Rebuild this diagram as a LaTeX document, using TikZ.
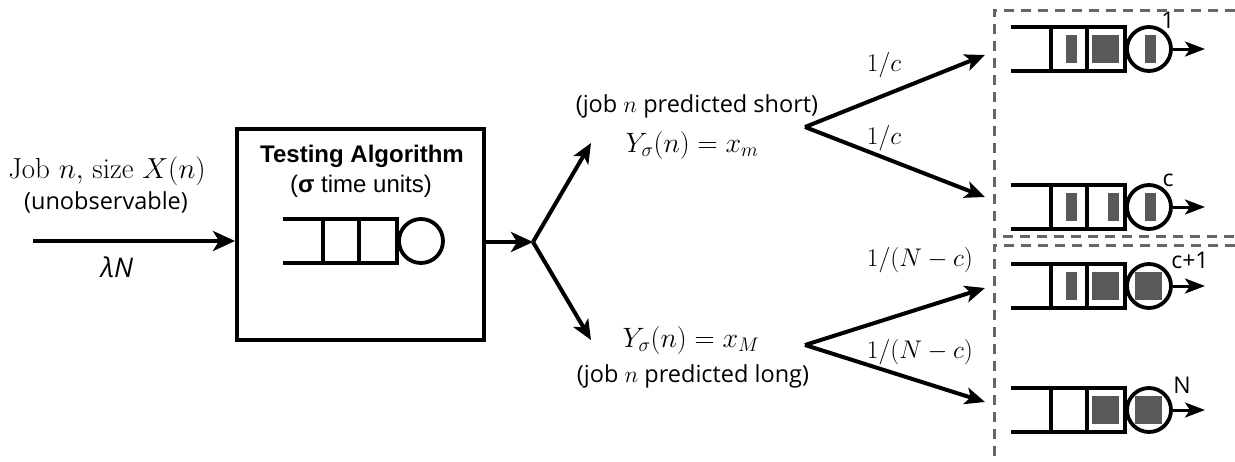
\RequirePackage{fix-cm}
\documentclass[tikz,border=0pt]{standalone}
\usepackage{fontspec}
\usetikzlibrary{arrows.meta,calc}
\newfontfamily\ubu{Open Sans}
\newfontfamily\arialf{Liberation Sans}
\definecolor{qgray}{HTML}{595959}
\definecolor{dgray}{HTML}{666666}
\tikzset{
  qline/.style={line width=4pt,line cap=rect},
  srv/.style={draw,circle,line width=3.8pt,minimum size=44pt,inner sep=0pt},
  qfill/.style={fill=qgray},
  bigarrow/.style={line width=4.5pt,-{Stealth[length=22pt,width=20pt,inset=6pt]}},
  brarrow/.style={line width=4pt,-{Stealth[length=20pt,width=17pt,inset=5pt]}},
  qarrow/.style={line width=3pt,-{Stealth[length=20pt,width=15pt,inset=5pt]}},
  dbox/.style={dgray,line width=3pt,dash pattern=on 10pt off 7pt},
  mathlbl/.style={inner sep=0pt},
  sanslbl/.style={inner sep=0pt,font=\ubu\fontsize{23.5}{28}\selectfont},
  qlbl/.style={inner sep=0pt,font=\ubu\fontsize{23}{27}\selectfont},
}
\newcommand\qbar[1]{\fill[qfill] (#1-5.5,-14) rectangle (#1+5.5,14);}
\newcommand\qsq[1]{\fill[qfill] (#1-13.5,-14) rectangle (#1+13.5,14);}
% #1 name, #2 position, #3 contents
\newcommand\myqueue[3]{%
  \begin{scope}[shift={#2}]
    \draw[qline] (112,-22) -- (0,-22) (0,22) -- (112,22)
      (38,-22) -- (38,22) (74,-22) -- (74,22) (112,-22) -- (112,22);
    \node[srv] (#1) at (136,0) {};
    #3
  \end{scope}}
\begin{document}
\begin{tikzpicture}[x=1pt,y=-1pt]
\useasboundingbox (0,0) rectangle (1235,461);

% dashed groups
\coordinate (d1a) at (1235,10);
\coordinate (d1b) at (994,10);
\coordinate (d1c) at (994,236);
\coordinate (d1d) at (1235,236);
\coordinate (d2a) at (1235,245);
\coordinate (d2b) at (994,245);
\coordinate (d2c) at (994,461);
\draw[dbox] (d1a) -- (d1b) -- (d1c) -- (d1d);
\draw[dbox] (d2a) -- (d2b) -- (d2c);

% testing algorithm box
\node[draw,line width=4pt,minimum width=247pt,minimum height=211pt,inner sep=0pt] (alg) at (360.5,234.5) {};
\node[inner sep=0pt,font=\arialf\bfseries\fontsize{24}{28}\selectfont] (talg) at (362,156) {Testing Algorithm};
\node[inner sep=0pt,font=\arialf\fontsize{24}{28}\selectfont] (tsig) at (361,186) {({\bfseries σ} time units)};
\myqueue{qa}{(285,241)}{}

% input
\coordinate (in) at (33,241);
\draw[bigarrow] (in) -- (in -| alg.west);
\node[mathlbl,font=\fontsize{29}{34}\selectfont] (job) at (107,171) {Job $n,$ size $X(n)$};
\node[sanslbl] (unobs) at (106,202) {(unobservable)};
\node[inner sep=0pt,font=\ubu\itshape\fontsize{27}{32}\selectfont] (lam) at (117,267) {λN};

% fork
\coordinate (fork) at (533,242);
\draw[bigarrow] (fork -| alg.east) -- (fork);
\coordinate (ts) at (591,143);
\coordinate (tl) at (591,340);
\draw[brarrow] (fork) -- (ts);
\draw[brarrow] (fork) -- (tl);

\node[sanslbl] (pshort) at (697,106) {(job $n$ predicted short)};
\node[mathlbl,font=\fontsize{28}{33}\selectfont] (ym) at (692,145) {$Y_\sigma(n)=x_m$};
\node[mathlbl,font=\fontsize{28}{33}\selectfont] (yM) at (691,340) {$Y_\sigma(n)=x_M$};
\node[sanslbl] (plong) at (693,376) {(job $n$ predicted long)};

% right forks
\coordinate (v1) at (805,127);
\coordinate (v2) at (805,345);
\coordinate (e1) at (985,55);
\coordinate (e2) at (985,197);
\coordinate (e3) at (985,288);
\coordinate (e4) at (985,402);
\draw[brarrow] (v1) -- (e1);
\draw[brarrow] (v1) -- (e2);
\draw[brarrow] (v2) -- (e3);
\draw[brarrow] (v2) -- (e4);
\node[mathlbl,font=\fontsize{25.5}{30}\selectfont] (f1) at (884,65) {$1/c$};
\node[mathlbl,font=\fontsize{25.5}{30}\selectfont] (f2) at (884,138) {$1/c$};
\node[mathlbl,font=\fontsize{25.5}{30}\selectfont] (f3) at (920,260) {$1/(N-c)$};
\node[mathlbl,font=\fontsize{25.5}{30}\selectfont] (f4) at (920,352) {$1/(N-c)$};

% right queues
\myqueue{q1}{(1013,49)}{\qbar{58}\qsq{92.5}\qbar{137}}
\myqueue{qc}{(1013,207)}{\qbar{58}\qbar{100}\qbar{137}}
\myqueue{qd}{(1013,286)}{\qbar{58}\qsq{92.5}\qsq{135.5}}
\myqueue{qn}{(1013,410)}{\qsq{92.5}\qsq{135.5}}
\coordinate (q1o) at (1205,49);
\coordinate (qco) at (1205,207);
\coordinate (qdo) at (1205,286);
\coordinate (qno) at (1205,410);
\draw[qarrow] (q1) -- (q1o);
\draw[qarrow] (qc) -- (qco);
\draw[qarrow] (qd) -- (qdo);
\draw[qarrow] (qn) -- (qno);
\node[qlbl] (l1) at (1168,20) {1};
\node[qlbl] (lc) at (1168,180) {c};
\node[qlbl] (ld) at (1190,260) {c+1};
\node[qlbl] (ln) at (1182,385) {N};
\end{tikzpicture}
\end{document}
